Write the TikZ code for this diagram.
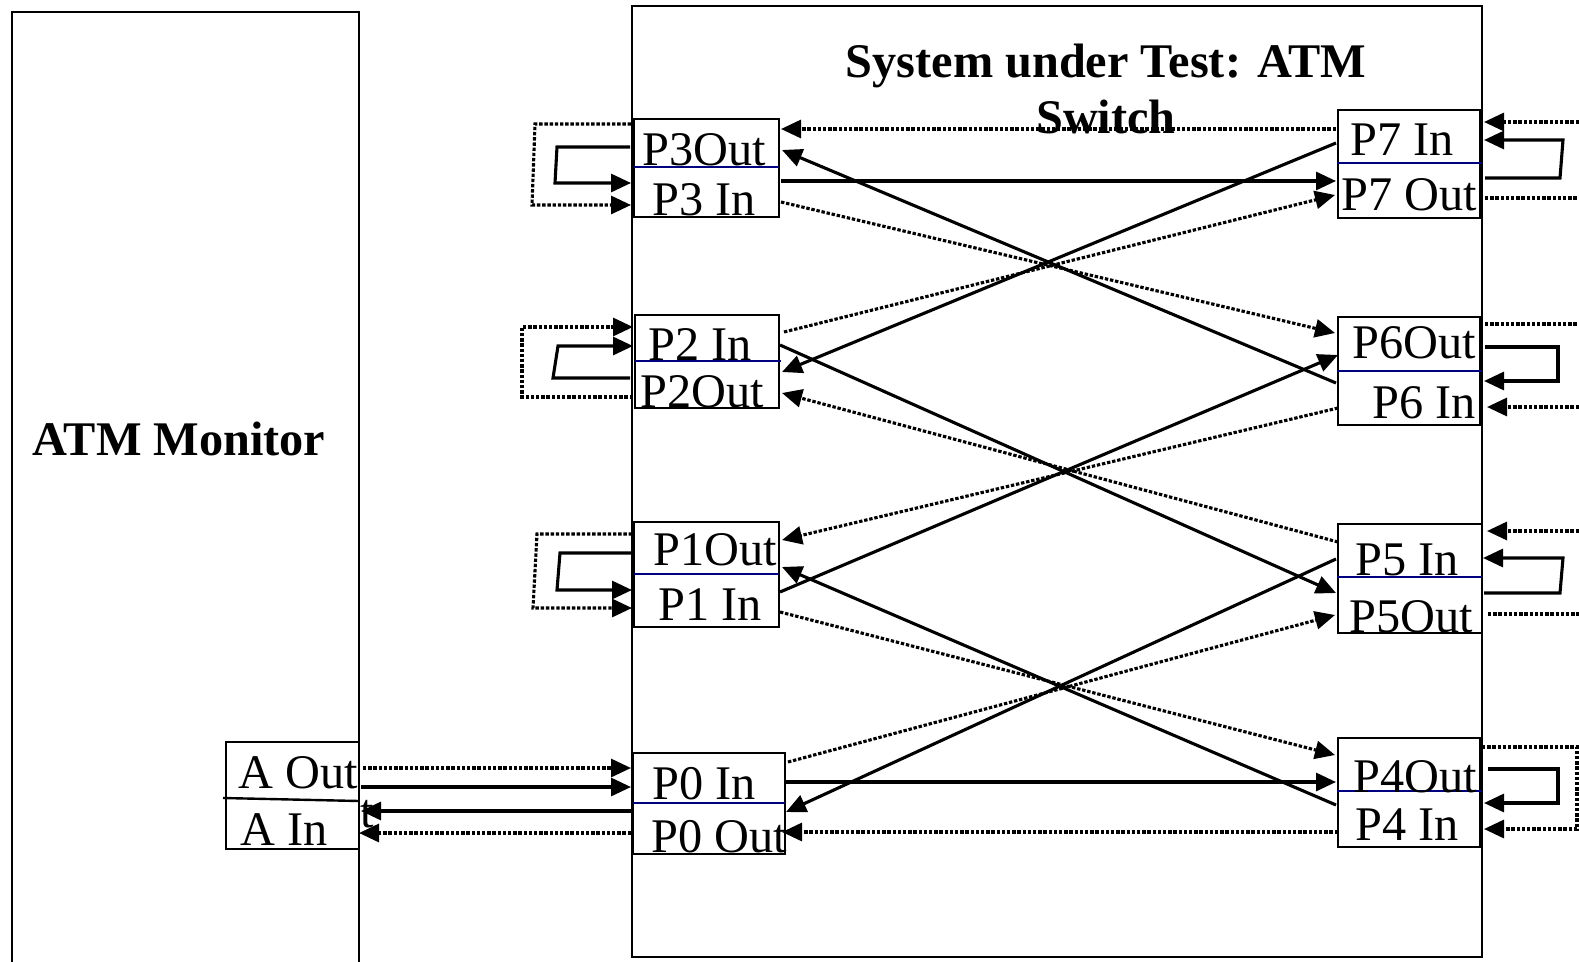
\documentclass[tikz,border=0pt]{standalone}
\usepackage{fontspec}
\setmainfont{Liberation Serif}
\usetikzlibrary{arrows.meta}
\definecolor{navy}{RGB}{0,0,128}
\begin{document}
\begin{tikzpicture}[x=1pt,y=-1pt,
  box/.style={draw, line width=2.4pt, inner sep=0pt, outer sep=0pt, anchor=north west},
  lbl/.style={font=\fontsize{48.3}{58}\selectfont, inner sep=0pt, anchor=base},
  ttl/.style={font=\fontsize{48.3}{58}\selectfont\bfseries, inner sep=0pt, anchor=base},
  sol/.style={line width=3.1pt},
  dotline/.style={line width=3.1pt, dash pattern=on 3.4pt off 1.8pt},
  arr/.style={-{Triangle[length=20pt,width=18pt]}},
  blueline/.style={line width=2.4pt, draw=navy}]
\useasboundingbox (0,0) rectangle (1579,961);

% main boxes
\node[box, minimum width=347pt, minimum height=1000pt] (mon) at (12,12) {};
\node[box, minimum width=850pt, minimum height=951pt] (sut) at (632,6) {};
\node[ttl] (monlbl) at (179,455) {ATM Monitor};
\node[ttl] (title1) at (1106,77) {System under Test: ATM};
\node[ttl] (title2) at (1106,133) {Switch};

% port boxes
\node[box, minimum width=133pt, minimum height=107pt] (A) at (226,742) {};
\node[box, minimum width=145pt, minimum height=98pt] (P3) at (634,119) {};
\node[box, minimum width=144pt, minimum height=93pt] (P2) at (635,315) {};
\node[box, minimum width=145pt, minimum height=105pt] (P1) at (634,522) {};
\node[box, minimum width=152pt, minimum height=101pt] (P0) at (633,753) {};
\node[box, minimum width=142pt, minimum height=108pt] (P7) at (1338,110) {};
\node[box, minimum width=142pt, minimum height=108pt] (P6) at (1338,317) {};
\node[box, minimum width=144pt, minimum height=109pt] (P5) at (1338,524) {};
\node[box, minimum width=142pt, minimum height=109pt] (P4) at (1338,738) {};

% dividers
\draw[line width=2.4pt] (223,798) -- (359,801);
\draw[blueline] (634,167) -- (779,167);
\draw[blueline] (635,361) -- (781,361);
\draw[blueline] (634,574) -- (779,574);
\draw[blueline] (633,803) -- (785,803);
\draw[blueline] (1337,163) -- (1482,163);
\draw[blueline] (1337,371) -- (1482,371);
\draw[blueline] (1337,577) -- (1482,577);
\draw[blueline] (1337,791) -- (1482,791);

% labels
\node[lbl] (lAo) at (298,788) {A Out};
\node[lbl] (lAi) at (284,845) {A In};
\node[lbl, anchor=base west] (lt) at (360,827) {t};
\node[lbl] (l3o) at (704,165) {P3Out};
\node[lbl] (l3i) at (704,215) {P3 In};
\node[lbl] (l2i) at (700,360) {P2 In};
\node[lbl] (l2o) at (702,407) {P2Out};
\node[lbl] (l1o) at (715,565) {P1Out};
\node[lbl] (l1i) at (710,620) {P1 In};
\node[lbl] (l0i) at (704,799) {P0 In};
\node[lbl] (l0o) at (719,852) {P0 Out};
\node[lbl] (l7i) at (1402,155) {P7 In};
\node[lbl] (l7o) at (1409,210) {P7 Out};
\node[lbl] (l6o) at (1414,358) {P6Out};
\node[lbl] (l6i) at (1424,418) {P6 In};
\node[lbl] (l5i) at (1407,575) {P5 In};
\node[lbl] (l5o) at (1411,632) {P5Out};
\node[lbl] (l4o) at (1415,792) {P4Out};
\node[lbl] (l4i) at (1407,840) {P4 In};

% connector end points
\coordinate (aOs) at (361,787);  \coordinate (aOd) at (363,768);
\coordinate (aIs) at (361,811);  \coordinate (aId) at (359,833);
\coordinate (p0Ls1) at (631,787); \coordinate (p0Ld1) at (631,768);
\coordinate (p0Ls2) at (631,811); \coordinate (p0Ld2) at (631,833);
\coordinate (p3Rd1) at (781,129); \coordinate (p3Rs1) at (782,150);
\coordinate (p3Rs2) at (781,181); \coordinate (p3Rd2) at (781,202);
\coordinate (p2Rd1) at (784,332); \coordinate (p2Rs1) at (780,345);
\coordinate (p2Rs2) at (782,372); \coordinate (p2Rd2) at (782,393);
\coordinate (p1Rd1) at (782,540); \coordinate (p1Rs1) at (782,567);
\coordinate (p1Rs2) at (780,592); \coordinate (p1Rd2) at (780,612);
\coordinate (p0Rd1) at (788,762); \coordinate (p0Rs1) at (786,782);
\coordinate (p0Rs2) at (786,812); \coordinate (p0Rd2) at (782,832);
\coordinate (p7Ld1) at (1336,129); \coordinate (p7Ls1) at (1336,143);
\coordinate (p7Ls2) at (1336,181); \coordinate (p7Ld2) at (1335,195);
\coordinate (p6Ld1) at (1335,333); \coordinate (p6Ls1) at (1338,355);
\coordinate (p6Ls2) at (1336,383); \coordinate (p6Ld2) at (1338,408);
\coordinate (p5Ld1) at (1338,542); \coordinate (p5Ls1) at (1336,559);
\coordinate (p5Ls2) at (1336,593); \coordinate (p5Ld2) at (1335,615);
\coordinate (p4Ld1) at (1335,755); \coordinate (p4Ls1) at (1336,782);
\coordinate (p4Ls2) at (1336,805); \coordinate (p4Ld2) at (1338,832);

% monitor <-> P0
\draw[sol,arr] (aOs) -- (p0Ls1);
\draw[dotline,arr] (aOd) -- (p0Ld1);
\draw[sol,arr] (p0Ls2) -- (aIs);
\draw[dotline,arr] (p0Ld2) -- (aId);

% solid crossing connectors
\draw[sol,arr] (p3Rs2) -- (p7Ls2);
\draw[sol,arr] (p6Ls2) -- (p3Rs1);
\draw[sol,arr] (p7Ls1) -- (p2Rs2);
\draw[sol,arr] (p2Rs1) -- (p5Ls2);
\draw[sol,arr] (p1Rs2) -- (p6Ls1);
\draw[sol,arr] (p4Ls2) -- (p1Rs1);
\draw[sol,arr] (p5Ls1) -- (p0Rs2);
\draw[sol,arr] (p0Rs1) -- (p4Ls1);

% dotted crossing connectors
\draw[dotline,arr] (p7Ld1) -- (p3Rd1);
\draw[dotline,arr] (p3Rd2) -- (p6Ld1);
\draw[dotline,arr] (p2Rd1) -- (p7Ld2);
\draw[dotline,arr] (p5Ld1) -- (p2Rd2);
\draw[dotline,arr] (p6Ld2) -- (p1Rd1);
\draw[dotline,arr] (p1Rd2) -- (p4Ld1);
\draw[dotline,arr] (p0Rd1) -- (p5Ld2);
\draw[dotline,arr] (p4Ld2) -- (p0Rd2);

% left loop-backs
\coordinate (p3a) at (630,147); \coordinate (p3b) at (631,183);
\coordinate (p3c) at (631,124); \coordinate (p3d) at (631,205);
\draw[sol,arr] (p3a) -- (557,147) -- (555,183) -- (p3b);
\draw[dotline,arr] (p3c) -- (535,124) -- (532,205) -- (p3d);
\coordinate (p2a) at (630,378); \coordinate (p2b) at (633,346);
\coordinate (p2c) at (633,397); \coordinate (p2d) at (633,327);
\draw[sol,arr] (p2a) -- (553,378) -- (558,346) -- (p2b);
\draw[dotline,arr] (p2c) -- (522,397) -- (522,327) -- (p2d);
\coordinate (p1a) at (631,553); \coordinate (p1b) at (632,590);
\coordinate (p1c) at (632,534); \coordinate (p1d) at (632,608);
\draw[sol,arr] (p1a) -- (560,553) -- (557,590) -- (p1b);
\draw[dotline,arr] (p1c) -- (537,534) -- (533,608) -- (p1d);

% right loop-backs
\coordinate (p7a) at (1485,178); \coordinate (p7b) at (1484,140);
\coordinate (p7c) at (1484,122); \coordinate (p7d) at (1485,198);
\draw[sol,arr] (p7a) -- (1560,178) -- (1563,140) -- (p7b);
\draw[dotline,arr] (1579,122) -- (p7c);
\draw[dotline] (p7d) -- (1579,198);
\coordinate (p6a) at (1485,347); \coordinate (p6b) at (1484,381);
\coordinate (p6c) at (1485,324); \coordinate (p6d) at (1487,407);
\draw[sol,arr] (p6a) -- (1558,347) -- (1558,381) -- (p6b);
\draw[dotline] (p6c) -- (1579,324);
\draw[dotline,arr] (1579,407) -- (p6d);
\coordinate (p5a) at (1484,593); \coordinate (p5b) at (1483,558);
\coordinate (p5c) at (1487,531); \coordinate (p5d) at (1488,614);
\draw[sol,arr] (p5a) -- (1560,593) -- (1563,558) -- (p5b);
\draw[dotline,arr] (1579,531) -- (p5c);
\draw[dotline] (p5d) -- (1579,614);
\coordinate (p4a) at (1488,769); \coordinate (p4b) at (1484,803);
\coordinate (p4c) at (1482,747); \coordinate (p4d) at (1484,829);
\draw[sol,arr] (p4a) -- (1558,769) -- (1558,803) -- (p4b);
\draw[dotline,arr] (p4c) -- (1577,747) -- (1577,829) -- (p4d);
\end{tikzpicture}
\end{document}
